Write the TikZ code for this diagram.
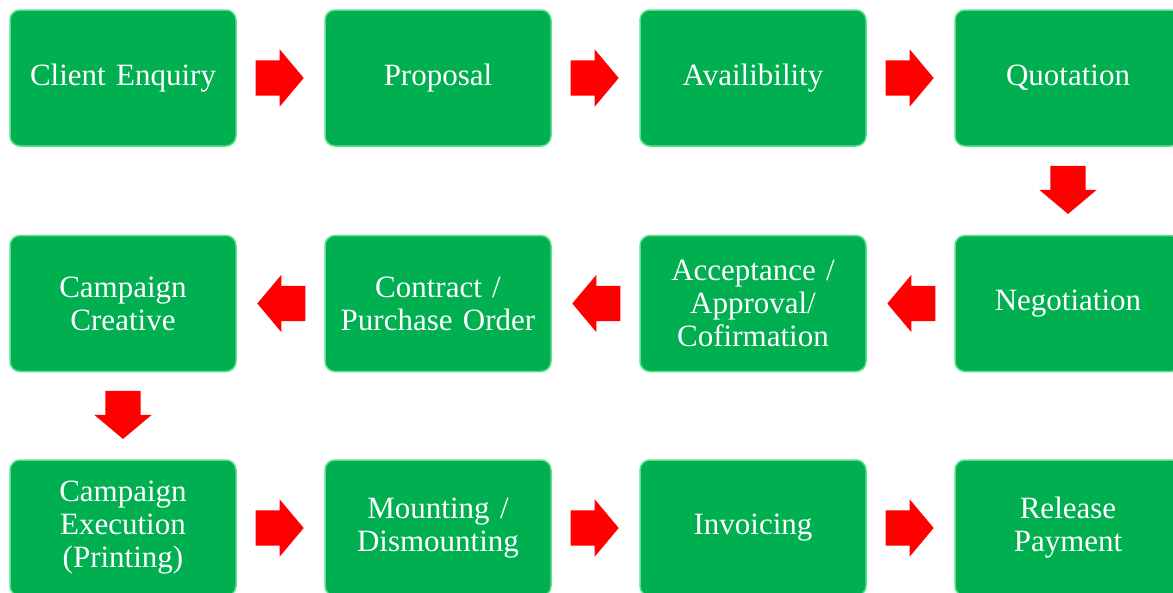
\documentclass[tikz,border=0pt]{standalone}
\usepackage{fontspec}
\setmainfont{Liberation Serif}
\usetikzlibrary{shapes.arrows,calc}
\definecolor{boxgreen}{HTML}{00B050}
\definecolor{edgegreen}{HTML}{5BE08A}
\tikzset{
  stage/.style={rectangle, rounded corners=10pt, fill=boxgreen, draw=edgegreen,
    line width=1.5pt, minimum width=226pt, minimum height=136pt, text width=215pt,
    align=center, text=white, font=\fontsize{31}{33}\selectfont, inner sep=0pt},
  flow/.style={single arrow, fill=red, draw=none, minimum height=48pt,
    text height=35pt, text depth=0pt, text width=0pt, minimum width=57pt,
    single arrow head extend=11pt, single arrow tip angle=100, inner sep=0pt,
    anchor=tail}
}
\begin{document}
\begin{tikzpicture}[x=1pt,y=-1pt]
\useasboundingbox (0,0) rectangle (1173,592);
\foreach \n/\c/\r/\t in {1/123/78/{Client Enquiry},
    2/438/78/{Proposal},
    3/753/78/{Availibility},
    4/1068/78/{Quotation},
    5/1068/303.5/{Negotiation},
    6/753/303.5/{Acceptance /\\ Approval/\\ Cofirmation},
    7/438/303.5/{Contract /\\ Purchase Order},
    8/123/303.5/{Campaign\\ Creative},
    9/123/528/{Campaign\\ Execution\\ (Printing)},
    10/438/528/{Mounting /\\ Dismounting},
    11/753/528/{Invoicing},
    12/1068/528/{Release\\ Payment}} {
    \node[stage] (s\n) at (\c,\r) {\t};
}
% arrows between stages
\foreach \a/\b/\d in {1/2/0,2/3/0,3/4/0,4/5/270,5/6/180,6/7/180,7/8/180,
    8/9/270,9/10/0,10/11/0,11/12/0} {
    \node[flow, rotate=\d] (f\a) at ($(s\a)!0.5!(s\b)!25pt!(s\a)$) {};
}
\end{tikzpicture}
\end{document}
